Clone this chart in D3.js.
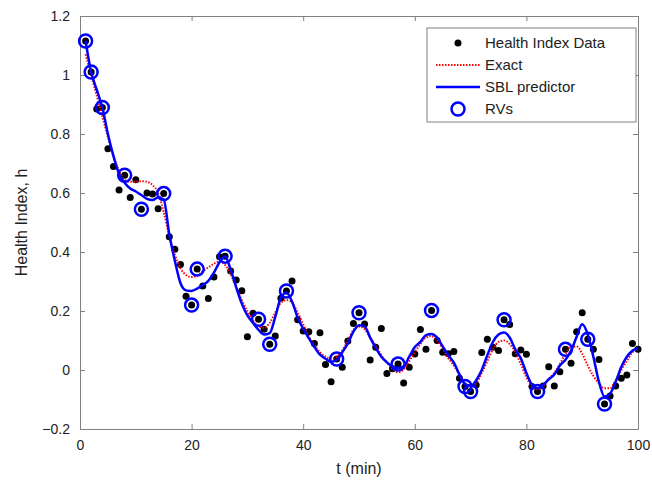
<!DOCTYPE html>
<html>
<head>
<meta charset="utf-8">
<script src="https://cdn.jsdelivr.net/npm/d3@7"></script>
<style>
  body { margin: 0; background: #fff; }
  svg text { font-family: "Liberation Sans", Arial, Helvetica, sans-serif; }
</style>
</head>
<body>
<div id="chart"></div>
<script>
// health index samples, t = 1..100
var data_vals = [1.115, 1.01, 0.885, 0.89, 0.75, 0.69, 0.61, 0.66, 0.585, 0.645,
  0.545, 0.60, 0.597, 0.547, 0.598, 0.452, 0.409, 0.358, 0.25, 0.22,
  0.342, 0.285, 0.242, 0.315, 0.384, 0.386, 0.336, 0.305, 0.269, 0.113,
  0.192, 0.172, 0.138, 0.087, 0.115, 0.243, 0.268, 0.302, 0.17, 0.132,
  0.13, 0.09, 0.126, 0.019, -0.04, 0.037, 0.009, 0.098, 0.158, 0.194,
  0.156, 0.034, 0.077, 0.141, -0.012, 0.004, 0.02, -0.044, 0.009, 0.054,
  0.137, 0.07, 0.202, 0.10, 0.06, 0.055, 0.063, -0.028, -0.056, -0.073,
  -0.051, 0.059, 0.104, 0.077, 0.066, 0.17, 0.154, 0.055, 0.068, 0.053,
  -0.056, -0.073, -0.054, 0.011, -0.054, -0.006, 0.07, 0.023, 0.13, 0.194,
  0.104, 0.07, 0.036, -0.115, -0.088, -0.054, -0.028, -0.017, 0.09, 0.07];

// exact curve, t = 1..100
var exact_vals = [1.07, 1.0, 0.93, 0.86, 0.79, 0.725, 0.675, 0.645, 0.638, 0.638,
  0.64, 0.638, 0.627, 0.60, 0.535, 0.455, 0.39, 0.345, 0.322, 0.315,
  0.32, 0.335, 0.348, 0.36, 0.368, 0.356, 0.325, 0.28, 0.237, 0.2,
  0.168, 0.148, 0.143, 0.16, 0.195, 0.228, 0.237, 0.228, 0.195, 0.155,
  0.115, 0.085, 0.06, 0.045, 0.038, 0.045, 0.066, 0.1, 0.135, 0.147,
  0.138, 0.11, 0.082, 0.05, 0.025, 0.004, -0.008, 0.002, 0.03, 0.06,
  0.088, 0.11, 0.115, 0.1, 0.072, 0.04, 0.015, -0.015, -0.045, -0.055,
  -0.045, -0.01, 0.03, 0.07, 0.095, 0.1, 0.088, 0.06, 0.02, -0.025,
  -0.055, -0.066, -0.055, -0.03, -0.01, 0.02, 0.055, 0.08, 0.08, 0.055,
  0.015, -0.02, -0.045, -0.062, -0.062, -0.035, 0.0, 0.03, 0.06, 0.072];

// SBL predictor, t = 1..100
var sbl_vals = [1.115, 1.01, 0.95, 0.89, 0.80, 0.725, 0.665, 0.635, 0.615, 0.605,
  0.593, 0.58, 0.576, 0.585, 0.578, 0.46, 0.37, 0.295, 0.27, 0.268,
  0.276, 0.288, 0.302, 0.33, 0.365, 0.385, 0.34, 0.28, 0.225, 0.185,
  0.16, 0.136, 0.12, 0.125, 0.18, 0.245, 0.262, 0.232, 0.178, 0.14,
  0.108, 0.078, 0.052, 0.038, 0.028, 0.034, 0.06, 0.09, 0.13, 0.152,
  0.148, 0.11, 0.075, 0.045, 0.026, 0.012, 0.007, 0.012, 0.045, 0.078,
  0.095, 0.118, 0.122, 0.11, 0.08, 0.05, 0.025, -0.015, -0.048, -0.055,
  -0.035, 0.0, 0.05, 0.095, 0.12, 0.127, 0.11, 0.07, 0.04, -0.01,
  -0.05, -0.062, -0.05, -0.032, -0.015, 0.015, 0.035, 0.065, 0.113, 0.155,
  0.12, 0.045, -0.04, -0.09, -0.08, -0.04, 0.01, 0.045, 0.065, 0.075];

// relevance vectors (t values)
var rv_times = [1, 2, 4, 8, 11, 15, 20, 21, 26, 32, 34, 37, 46, 50, 57, 63, 69, 70, 76, 82, 87, 91, 94];

var x_ticks = [0, 20, 40, 60, 80, 100];
var y_ticks = [-0.2, 0, 0.2, 0.4, 0.6, 0.8, 1, 1.2];
var legend_labels = ["Health Index Data", "Exact", "SBL predictor", "RVs"];

var width = 652, height = 482,
    margin = {top: 16, right: 14, bottom: 53, left: 80};
var w = width - margin.left - margin.right,
    h = height - margin.top - margin.bottom;

var svg = d3.select("#chart").append("svg")
    .attr("width", width)
    .attr("height", height);
var g = svg.append("g")
    .attr("transform", "translate(" + margin.left + "," + margin.top + ")");

var x = d3.scaleLinear().domain([0, 100]).range([0, w]);
var y = d3.scaleLinear().domain([-0.2, 1.2]).range([h, 0]);

var axisColor = "#808080";
var fmtY = function(d) { return d == 0 ? "0" : d3.format("")(+d.toFixed(1)); };

// axes with inward ticks, box mirrored
function styleAxis(sel) {
  sel.select(".domain").attr("stroke", axisColor);
  sel.selectAll(".tick line").attr("stroke", axisColor);
  sel.selectAll(".tick text").attr("fill", "#222").style("font-size", "14px");
}
g.append("g").attr("transform", "translate(0," + h + ")")
  .call(d3.axisBottom(x).tickValues(x_ticks).tickSizeInner(-5).tickSizeOuter(0).tickPadding(11))
  .call(styleAxis);
g.append("g")
  .call(d3.axisLeft(y).tickValues(y_ticks).tickFormat(fmtY).tickSizeInner(-5).tickSizeOuter(0).tickPadding(10))
  .call(styleAxis);
g.append("g")
  .call(d3.axisTop(x).tickValues(x_ticks).tickFormat("").tickSizeInner(-5).tickSizeOuter(0))
  .call(styleAxis);
g.append("g").attr("transform", "translate(" + w + ",0)")
  .call(d3.axisRight(y).tickValues(y_ticks).tickFormat("").tickSizeInner(-5).tickSizeOuter(0))
  .call(styleAxis);

var plot = g.append("g");

// data dots
plot.selectAll("circle.dot").data(data_vals).enter().append("circle")
  .attr("class", "dot")
  .attr("cx", function(d, i) { return x(i + 1); })
  .attr("cy", function(d) { return y(d); })
  .attr("r", 3.5)
  .attr("fill", "#000");

var line = d3.line()
  .x(function(d, i) { return x(i + 1); })
  .y(function(d) { return y(d); })
  .curve(d3.curveMonotoneX);

plot.append("path").datum(exact_vals)
  .attr("d", line)
  .attr("fill", "none")
  .attr("stroke", "#ff0000")
  .attr("stroke-width", 2)
  .attr("stroke-dasharray", "1.5,1.5");

plot.append("path").datum(sbl_vals)
  .attr("d", line)
  .attr("fill", "none")
  .attr("stroke", "#0000ff")
  .attr("stroke-width", 2.5);

plot.selectAll("circle.rv").data(rv_times).enter().append("circle")
  .attr("class", "rv")
  .attr("cx", function(d) { return x(d); })
  .attr("cy", function(d) { return y(data_vals[d - 1]); })
  .attr("r", 6.5)
  .attr("fill", "none")
  .attr("stroke", "#0000ff")
  .attr("stroke-width", 2.5);

// axis titles
svg.append("text")
  .attr("x", margin.left + w / 2)
  .attr("y", 474)
  .attr("text-anchor", "middle")
  .style("font-size", "16px")
  .attr("fill", "#222")
  .text("t (min)");
svg.append("text")
  .attr("transform", "translate(27," + (margin.top + h / 2) + ") rotate(-90)")
  .attr("text-anchor", "middle")
  .style("font-size", "16px")
  .attr("fill", "#222")
  .text("Health Index, h");

// legend
var lg = svg.append("g").attr("transform", "translate(427,28)");
lg.append("rect")
  .attr("width", 209).attr("height", 94)
  .attr("fill", "#fff").attr("stroke", "#808080").attr("stroke-width", 1);
var rowY = [15, 37, 59, 81];
lg.selectAll("text").data(legend_labels).enter().append("text")
  .attr("x", 58)
  .attr("y", function(d, i) { return rowY[i] + 5; })
  .style("font-size", "15px")
  .attr("fill", "#222")
  .text(function(d) { return d; });
lg.append("circle").attr("cx", 31).attr("cy", rowY[0]).attr("r", 3.5).attr("fill", "#000");
lg.append("line").attr("x1", 9).attr("x2", 53).attr("y1", rowY[1]).attr("y2", rowY[1])
  .attr("stroke", "#ff0000").attr("stroke-width", 2).attr("stroke-dasharray", "1.5,1.5");
lg.append("line").attr("x1", 9).attr("x2", 53).attr("y1", rowY[2]).attr("y2", rowY[2])
  .attr("stroke", "#0000ff").attr("stroke-width", 2.5);
lg.append("circle").attr("cx", 31).attr("cy", rowY[3]).attr("r", 6.5)
  .attr("fill", "none").attr("stroke", "#0000ff").attr("stroke-width", 2.5);
</script>
</body>
</html>
